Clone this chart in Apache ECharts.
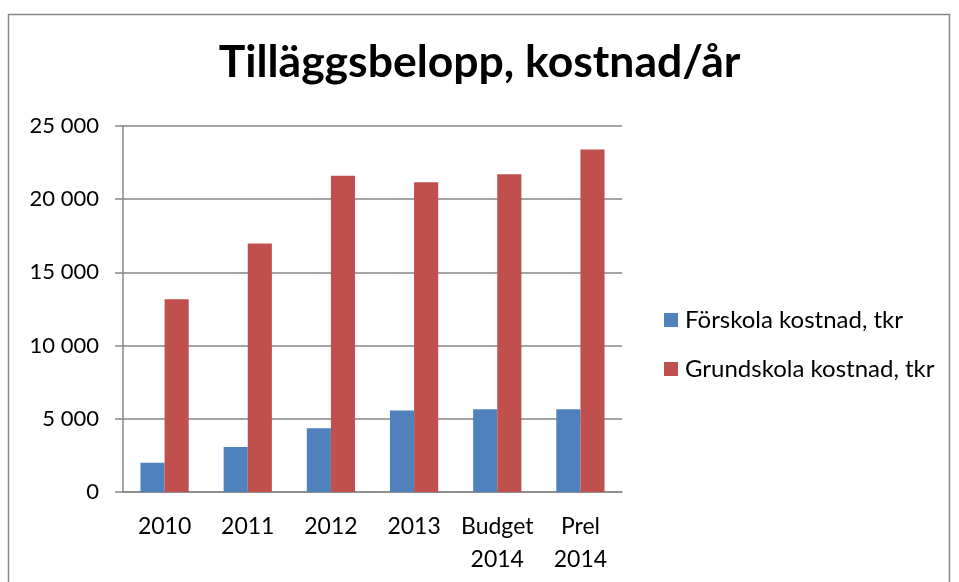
<!DOCTYPE html>
<html><head><meta charset="utf-8">
<script src="https://cdn.jsdelivr.net/npm/echarts@6/dist/echarts.min.js"></script>
<style>html,body{margin:0;padding:0;background:#fff}#c{width:959px;height:582px}</style>
</head><body><div id="c"></div>
<script>
const categories = ['2010', '2011', '2012', '2013', 'Budget\n2014', 'Prel\n2014'];
const forskola = [2000, 3070, 4360, 5570, 5660, 5660];
const grundskola = [13160, 16980, 21600, 21150, 21700, 23400];
const seriesNames = ['Förskola kostnad, tkr', 'Grundskola kostnad, tkr'];
const titleText = 'Tilläggsbelopp, kostnad/år';

const font = 'Lato, Carlito, "Open Sans", sans-serif';
const chart = echarts.init(document.getElementById('c'), null, {renderer: 'canvas'});
chart.setOption({
  animation: false,
  backgroundColor: '#fff',
  title: {
    text: titleText, left: 'center', top: 41, padding: 0,
    textStyle: {fontFamily: font, fontWeight: 'bold', fontSize: 44.5, lineHeight: 44, color: '#000'}
  },
  graphic: [{
    type: 'rect', shape: {x: 8.5, y: 14.5, width: 941, height: 600},
    style: {fill: 'none', stroke: '#868686', lineWidth: 1.5}, silent: true
  }],
  legend: {
    orient: 'vertical', left: 664, top: 308, itemGap: 25, padding: 0,
    itemWidth: 14, itemHeight: 14, icon: 'rect',
    textStyle: {fontFamily: font, fontSize: 24, lineHeight: 24, color: '#000', padding: [0, 0, 0, 2]},
    data: seriesNames
  },
  grid: {left: 123, right: 337, top: 126, bottom: 90, containLabel: false},
  xAxis: {
    type: 'category', data: categories,
    axisLine: {lineStyle: {color: '#868686', width: 1.5}},
    axisTick: {length: 7, lineStyle: {color: '#868686', width: 1.5}},
    axisLabel: {interval: 0, hideOverlap: false, fontFamily: font, fontSize: 23, color: '#000', margin: 18.5, lineHeight: 33}
  },
  yAxis: {
    type: 'value', min: 0, max: 25000, interval: 5000,
    axisLine: {show: true, lineStyle: {color: '#868686', width: 1.5}},
    axisTick: {show: true, length: 8, lineStyle: {color: '#868686', width: 1.5}},
    splitLine: {lineStyle: {color: '#868686', width: 1.5}},
    axisLabel: {
      fontFamily: font, fontSize: 22, color: '#000', margin: 24,
      formatter: v => String(v).replace(/\B(?=(\d{3})+(?!\d))/g, ' ')
    }
  },
  series: [
    {name: seriesNames[0], type: 'bar', data: forskola, barGap: '0%', barCategoryGap: '42%',
     itemStyle: {color: '#4F81BD'}},
    {name: seriesNames[1], type: 'bar', data: grundskola, barGap: '0%', barCategoryGap: '42%',
     itemStyle: {color: '#C0504D'}}
  ]
});
</script></body></html>
